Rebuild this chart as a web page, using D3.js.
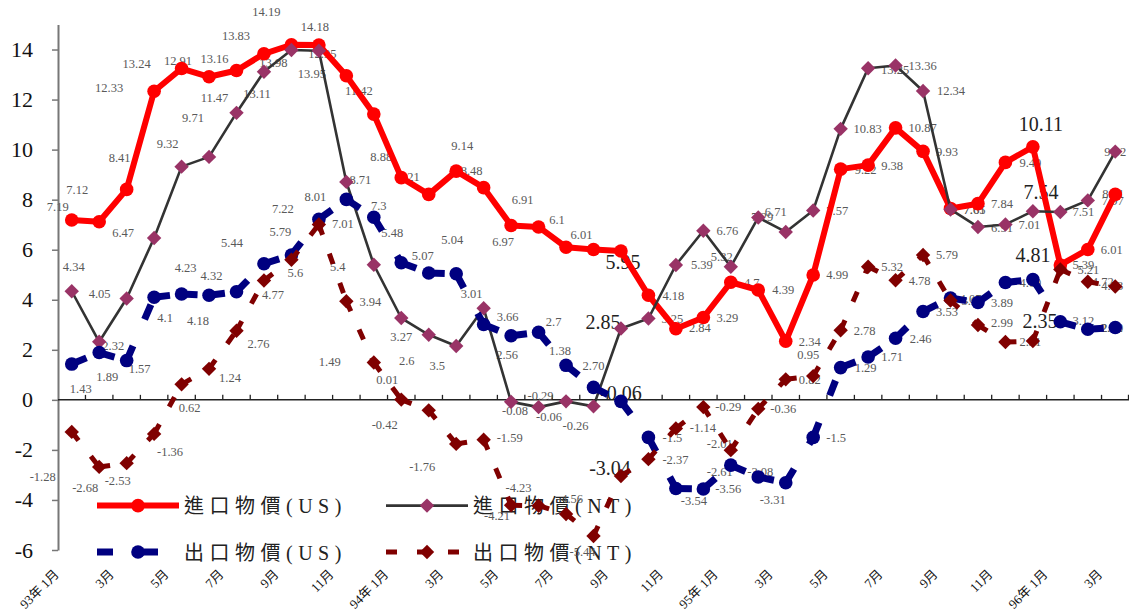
<!DOCTYPE html>
<html>
<head>
<meta charset="utf-8">
<script src="https://cdn.jsdelivr.net/npm/d3@7"></script>
<style>
  html, body { margin: 0; padding: 0; background: #fff; }
  svg { display: block; }
</style>
</head>
<body>
<svg id="chart" width="1129" height="614"></svg>
<script>
// ---- data -------------------------------------------------------------
const months = [
  "93年1月","93年2月","93年3月","93年4月","93年5月","93年6月","93年7月","93年8月","93年9月","93年10月","93年11月","93年12月",
  "94年1月","94年2月","94年3月","94年4月","94年5月","94年6月","94年7月","94年8月","94年9月","94年10月","94年11月","94年12月",
  "95年1月","95年2月","95年3月","95年4月","95年5月","95年6月","95年7月","95年8月","95年9月","95年10月","95年11月","95年12月",
  "96年1月","96年2月","96年3月"
];

// tick labels, one for every second month
const xTickLabels = ["93年 1月","3月","5月","7月","9月","11月","94年 1月","3月","5月","7月","9月","11月",
                     "95年 1月","3月","5月","7月","9月","11月","96年 1月","3月"];
const yTicks = [-6, -4, -2, 0, 2, 4, 6, 8, 10, 12, 14];

// 進口物價 (US$ basis), yoy %
const importUS = [7.19, 7.12, 8.41, 12.33, 13.24, 12.91, 13.16, 13.83, 14.19, 14.18, 12.95, 11.42,
                  8.88, 8.21, 9.14, 8.48, 6.97, 6.91, 6.1, 6.01, 5.95, 4.18, 2.84, 3.29,
                  4.7, 4.39, 2.34, 4.99, 9.22, 9.38, 10.87, 9.93, 7.65, 7.84, 9.49, 10.11,
                  5.39, 6.01, 8.21];
// 進口物價 (NT$ basis)
const importNT = [4.34, 2.32, 4.05, 6.47, 9.32, 9.71, 11.47, 13.11, 13.98, 13.95, 8.71, 5.4,
                  3.27, 2.6, 2.15, 3.66, -0.08, -0.29, -0.06, -0.26, 2.85, 3.25, 5.39, 6.76,
                  5.32, 7.29, 6.71, 7.57, 10.83, 13.25, 13.36, 12.34, 7.61, 6.91, 7.01, 7.54,
                  7.51, 7.97, 9.92];
// 出口物價 (US$ basis)
const exportUS = [1.43, 1.89, 1.57, 4.1, 4.23, 4.18, 4.32, 5.44, 5.79, 7.22, 8.01, 7.3,
                  5.48, 5.07, 5.04, 3.01, 2.56, 2.7, 1.38, 0.5, -0.06, -1.5, -3.54, -3.56,
                  -2.61, -3.08, -3.31, -1.5, 1.29, 1.71, 2.46, 3.53, 4.07, 3.89, 4.69, 4.81,
                  3.12, 2.82, 2.89];
// 出口物價 (NT$ basis)
const exportNT = [-1.28, -2.68, -2.53, -1.36, 0.62, 1.24, 2.76, 4.77, 5.6, 7.01, 3.94, 1.49,
                  0.01, -0.42, -1.76, -1.59, -4.21, -4.23, -4.56, -5.44, -3.04, -2.37, -1.14, -0.29,
                  -2.01, -0.36, 0.82, 0.95, 2.78, 5.32, 4.78, 5.79, 3.97, 2.99, 2.31, 2.35,
                  5.21, 4.72, 4.53];

// value labels whose printed text differs from the plotted value
const importNTLabelText = { 14: "3.5" };
const exportUSLabelText = { 19: "2.70" };

// months whose value labels are printed large
const highlightMonths = ["94年9月", "95年12月"];

// ---- layout: value-label offsets (px) from each marker -----------------
const importUSLabelOffset = [[-14,-13],[-22,-32],[-7,-32],[-45,-4],[-45,-5],[-31,-16],[-22,-12],[-28,-18],[-25,-33],[-4,-18],
  [-24,-22],[-15,-23],[-20,-21],[-20,-18],[6,-26],[-12,-17],[-8,16],[-16,-27],[-9,-28],[-12,-15],
  [2,11],[25,0],[24,-1],[24,0],[21,0],[25,0],[24,0],[24,0],[25,0],[24,0],
  [27,0],[24,0],[24,1],[24,0],[25,0],[8,-23],[23,0],[24,0],[-2,-1]];
const importNTLabelOffset = [[2,-25],[14,4],[-27,-5],[-31,-5],[-14,-23],[-16,-39],[-22,-15],[-7,22],[-18,13],[-7,23],
  [14,-2],[-36,2],[0,19],[-22,26],[-19,20],[24,8],[4,9],[2,-11],[-17,15],[-18,19],
  [-18,-7],[24,0],[26,0],[24,0],[-9,-10],[4,-1],[-10,-20],[24,0],[27,0],[27,1],
  [27,0],[28,0],[24,0],[24,1],[24,0],[8,-19],[23,0],[25,0],[0,0]];
const exportUSLabelOffset = [[9,25],[8,24],[13,8],[11,20],[4,-26],[-11,25],[-25,-16],[-32,-21],[-11,-23],[-36,-11],
  [-31,-3],[5,-12],[-9,-30],[-6,-17],[-4,-34],[-12,-31],[-4,19],[15,-11],[-6,-15],[0,-22],
  [0,-8],[24,0],[18,12],[25,0],[-11,6],[2,-5],[-13,17],[23,0],[25,0],[24,0],
  [25,0],[24,0],[20,1],[24,0],[25,0],[0,-24],[23,-1],[24,-2],[-3,0]];
const exportNTLabelOffset = [[-29,45],[-14,21],[-9,17],[16,18],[8,23],[21,9],[22,13],[9,14],[4,13],[24,-1],
  [24,0],[-44,-1],[-14,-20],[-44,14],[-34,23],[26,-2],[-14,10],[-20,-18],[4,-15],[-11,16],
  [-11,-8],[27,0],[27,-1],[25,0],[-11,-7],[25,0],[24,0],[-5,-21],[24,0],[24,0],
  [24,0],[24,0],[22,0],[24,-2],[25,0],[7,-20],[28,0],[15,0],[-3,-1]];

// ---- series styling -----------------------------------------------------
const series = [
  { name: "進口物價(US)", values: importUS, text: {}, offsets: importUSLabelOffset,
    line: "#ff0000", width: 6, dash: null, marker: "circle", fill: "#ff0000", legend: [0, 0] },
  { name: "進口物價(NT)", values: importNT, text: importNTLabelText, offsets: importNTLabelOffset,
    line: "#333333", width: 2.6, dash: null, marker: "diamond", fill: "#993366", legend: [1, 0] },
  { name: "出口物價(US)", values: exportUS, text: exportUSLabelText, offsets: exportUSLabelOffset,
    line: "#000080", width: 7, dash: "16,29", marker: "circle", fill: "#000080", legend: [0, 1] },
  { name: "出口物價(NT)", values: exportNT, text: {}, offsets: exportNTLabelOffset,
    line: "#800000", width: 5, dash: "11,20", marker: "diamond", fill: "#800000", legend: [1, 1] }
];

// ---- scales ---------------------------------------------------------------
const W = 1129, H = 614;
const plotLeft = 58, plotRight = 1129;
const serif = "'Liberation Serif','Times New Roman','Noto Sans CJK TC',serif";

const x = d3.scaleBand().domain(months).range([plotLeft, plotRight]).paddingInner(0).paddingOuter(0);
const y = d3.scaleLinear().domain([-6, 15]).range([550, 24.5]);
const cx = i => x(months[i]) + x.bandwidth() / 2;

const svg = d3.select("#chart");
svg.append("rect").attr("width", W).attr("height", H).attr("fill", "#fff");

// ---- axes -----------------------------------------------------------------
const yAxis = d3.axisLeft(y).tickValues(yTicks).tickSize(6).tickSizeOuter(0)
  .tickPadding(19).tickFormat(d => String(d));
const gy = svg.append("g").attr("transform", `translate(${plotLeft},0)`).call(yAxis);
gy.select(".domain").attr("stroke", "#777").attr("stroke-width", 2);
gy.selectAll(".tick line").attr("stroke", "#777").attr("stroke-width", 1.5);
gy.selectAll(".tick text").attr("font-family", serif).attr("font-size", 22).attr("fill", "#111");

// category axis at zero, ticks between months
const gx = svg.append("g");
gx.append("line").attr("x1", plotLeft).attr("x2", plotRight)
  .attr("y1", y(0)).attr("y2", y(0)).attr("stroke", "#222").attr("stroke-width", 1.5);
gx.selectAll("line.tick").data(months.slice(1).concat([null])).join("line")
  .attr("class", "tick")
  .attr("x1", d => d === null ? plotRight - 0.5 : x(d))
  .attr("x2", d => d === null ? plotRight - 0.5 : x(d))
  .attr("y1", y(0)).attr("y2", y(0) - 5)
  .attr("stroke", "#222").attr("stroke-width", 1.3);

svg.append("g").selectAll("text").data(xTickLabels).join("text")
  .attr("transform", (d, k) => `translate(${cx(k * 2) - 12},575) rotate(-45)`)
  .attr("text-anchor", "end")
  .attr("font-family", serif).attr("font-size", 13).attr("fill", "#111")
  .text(d => d);

// ---- legend ---------------------------------------------------------------
const legendCols = [97, 386], legendRows = [505.6, 552];
const legend = svg.append("g");
series.forEach(s => {
  const lx = legendCols[s.legend[0]], ly = legendRows[s.legend[1]];
  const g = legend.append("g");
  g.append("line").attr("x1", lx).attr("x2", lx + 82).attr("y1", ly).attr("y2", ly)
    .attr("stroke", s.line).attr("stroke-width", s.width)
    .attr("stroke-dasharray", s.dash);
  drawMarker(g, lx + 41, ly, s);
  g.append("text").attr("x", lx + 87).attr("y", ly + 7.5)
    .attr("font-family", serif).attr("font-size", 20).attr("letter-spacing", "5.5px")
    .attr("fill", "#222").text(s.name);
});

// ---- value labels ---------------------------------------------------------
const labels = svg.append("g");
series.forEach(s => {
  labels.selectAll(null).data(s.values).join("text")
    .attr("x", (v, i) => cx(i) + s.offsets[i][0])
    .attr("y", (v, i) => y(v) + s.offsets[i][1])
    .attr("dy", "0.35em")
    .attr("text-anchor", "middle")
    .attr("font-family", serif)
    .attr("font-size", (v, i) => highlightMonths.includes(months[i]) ? 20 : 12.5)
    .attr("fill", (v, i) => highlightMonths.includes(months[i]) ? "#222" : "#595959")
    .text((v, i) => s.text[i] !== undefined ? s.text[i] : String(v));
});

// ---- series ---------------------------------------------------------------
function drawMarker(g, px, py, s) {
  if (s.marker === "circle") {
    g.append("circle").attr("cx", px).attr("cy", py).attr("r", 6.8).attr("fill", s.fill);
  } else {
    const r = 7.2;
    g.append("path").attr("d", `M${px},${py - r}L${px + r},${py}L${px},${py + r}L${px - r},${py}Z`)
      .attr("fill", s.fill);
  }
}

const plot = svg.append("g");
series.forEach(s => {
  const g = plot.append("g");
  const pts = s.values.map((v, i) => [cx(i), y(v)]);
  if (s.dash) {
    // each segment starts its own dash pattern
    g.selectAll("line").data(d3.pairs(pts)).join("line")
      .attr("x1", d => d[0][0]).attr("y1", d => d[0][1])
      .attr("x2", d => d[1][0]).attr("y2", d => d[1][1])
      .attr("stroke", s.line).attr("stroke-width", s.width)
      .attr("stroke-dasharray", s.dash);
  } else {
    g.append("path").attr("d", d3.line()(pts)).attr("fill", "none")
      .attr("stroke", s.line).attr("stroke-width", s.width)
      .attr("stroke-linejoin", "round");
  }
  pts.forEach(p => drawMarker(g, p[0], p[1], s));
});
</script>
</body>
</html>
